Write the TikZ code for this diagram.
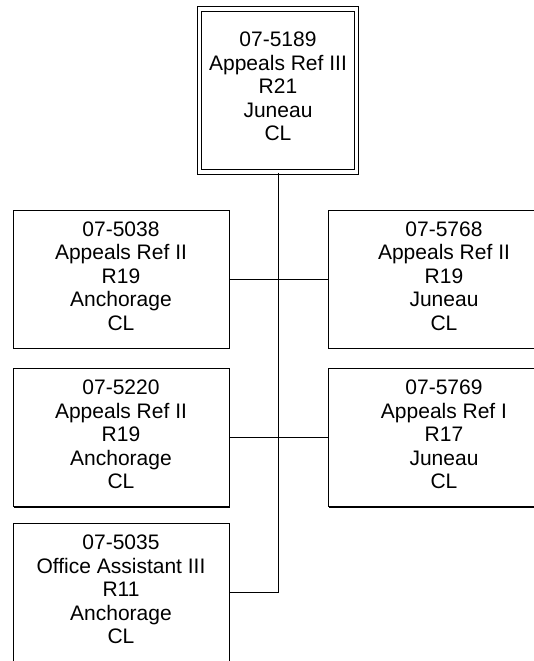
\documentclass[tikz,border=0pt]{standalone}
\usepackage{fontspec}
\setmainfont{Liberation Sans}
\usetikzlibrary{shadows}
\begin{document}
\begin{tikzpicture}[x=1pt,y=-1pt,
  txt/.style={align=center, font=\fontsize{21}{23.6}\selectfont, inner sep=0pt, yshift=3pt},
  posbox/.style={draw=black, line width=0.9pt, fill=white, inner sep=0pt,
    drop shadow={shadow xshift=1pt, shadow yshift=-1pt, fill=black, opacity=1}},
  leftbox/.style={posbox, minimum width=216pt, minimum height=138pt},
  rightbox/.style={posbox, minimum width=232pt, minimum height=138pt},
  topbox/.style={draw=black, double=white, double distance=3.6pt, line width=1.1pt,
    inner sep=0pt, minimum width=157pt, minimum height=163pt},
  conn/.style={draw=black, line width=0.8pt}]
\useasboundingbox (0,0) rectangle (534,661);
\clip (0,0) rectangle (534,661);
\node[topbox, label={[txt, yshift=1pt]center:{07-5189\\Appeals Ref III\\R21\\Juneau\\CL}}] (top) at (278,90.5) {};
\node[leftbox, label={[txt]center:{07-5038\\Appeals Ref II\\R19\\Anchorage\\CL}}] (l1) at (121,279) {};
\node[rightbox, label={[txt]center:{07-5768\\Appeals Ref II\\R19\\Juneau\\CL}}] (r1) at (444,279) {};
\node[leftbox, label={[txt]center:{07-5220\\Appeals Ref II\\R19\\Anchorage\\CL}}] (l2) at (121,437.5) {};
\node[rightbox, label={[txt]center:{07-5769\\Appeals Ref I\\R17\\Juneau\\CL}}] (r2) at (444,437.5) {};
\node[leftbox, label={[txt]center:{07-5035\\Office Assistant III\\R11\\Anchorage\\CL}}] (l3) at (121,592.5) {};
\draw[conn] (top.south) |- (l3.east);
\draw[conn] (l1.east) -- (r1.west);
\draw[conn] (l2.east) -- (r2.west);
\end{tikzpicture}
\end{document}
